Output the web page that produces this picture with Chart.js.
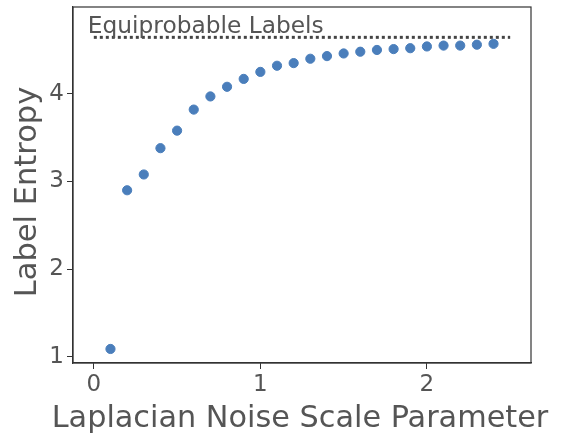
<!DOCTYPE html>
<html>
<head>
<meta charset="utf-8">
<script src="https://cdn.jsdelivr.net/npm/chart.js@4"></script>
<style>
  html, body { margin: 0; padding: 0; background: #fff; }
  #wrap { width: 565px; height: 434px; }
</style>
</head>
<body>
<div id="wrap"><canvas id="chartEntropy"></canvas></div>
<script>
const noiseScales = [0.1, 0.2, 0.3, 0.4, 0.5, 0.6, 0.7, 0.8, 0.9, 1.0, 1.1, 1.2,
  1.3, 1.4, 1.5, 1.6, 1.7, 1.8, 1.9, 2.0, 2.1, 2.2, 2.3, 2.4];
const labelEntropy = [1.09, 2.90, 3.08, 3.38, 3.58, 3.82, 3.97, 4.08, 4.17, 4.25, 4.32, 4.35,
  4.40, 4.43, 4.46, 4.48, 4.50, 4.51, 4.52, 4.54, 4.55, 4.55, 4.56, 4.57];
const equiprobableX = [0, 2.5];
const equiprobableY = [4.644, 4.644];
const xTicks = [0, 1, 2];
const yTicks = [1, 2, 3, 4];
const xTitle = "Laplacian Noise Scale Parameter";
const yTitle = "Label Entropy";
const noteText = "Equiprobable Labels";

const textColor = "#555555";
const axisColor = "#333333";
const fontFamily = "'DejaVu Sans', sans-serif";

const chartEntropyElement = document.querySelector("#chartEntropy");

// frame, axis titles (drawn here so Chart.js doesn't squeeze them) and the note
const framePlugin = {
  id: "frame",
  afterDraw: (chart) => {
    const { ctx, chartArea, scales } = chart;
    ctx.save();
    ctx.strokeStyle = axisColor;
    ctx.lineWidth = 1.2;
    ctx.strokeRect(chartArea.left, chartArea.top, chartArea.right - chartArea.left, chartArea.bottom - chartArea.top);

    ctx.fillStyle = textColor;
    ctx.textBaseline = "alphabetic";

    ctx.font = "23.3px " + fontFamily;
    ctx.textAlign = "left";
    ctx.fillText(noteText, scales.x.getPixelForValue(0) - 6, scales.y.getPixelForValue(equiprobableY[0]) - 4);

    ctx.font = "30.3px " + fontFamily;
    ctx.textAlign = "center";
    ctx.fillText(xTitle, (chartArea.left + chartArea.right) / 2 - 2, 427);

    ctx.translate(36, (chartArea.top + chartArea.bottom) / 2 + 7);
    ctx.rotate(-Math.PI / 2);
    ctx.font = "30.5px " + fontFamily;
    ctx.fillText(yTitle, 0, 0);
    ctx.restore();
  },
};

const noScalePadding = (scale) => {
  scale.paddingTop = 0;
  scale.paddingBottom = 0;
  scale.paddingLeft = 0;
  scale.paddingRight = 0;
};

const chartEntropy = new Chart(chartEntropyElement, {
  type: "scatter",
  data: {
    datasets: [
      {
        label: "Equiprobable",
        type: "line",
        data: equiprobableX.map((x, i) => ({ x: x, y: equiprobableY[i] })),
        borderColor: "#444444",
        borderWidth: 3,
        borderDash: [3, 3],
        borderCapStyle: "butt",
        pointRadius: 0,
        fill: false,
      },
      {
        label: "Label Entropy",
        data: noiseScales.map((x, i) => ({ x: x, y: labelEntropy[i] })),
        backgroundColor: "#4a7ebb",
        borderColor: "#4a7ebb",
        pointRadius: 4.6,
        pointHoverRadius: 4.6,
      },
    ],
  },
  options: {
    responsive: true,
    maintainAspectRatio: false,
    animation: false,
    layout: { padding: { left: 0, top: 7, right: 34, bottom: 0 } },
    plugins: {
      legend: { display: false },
      tooltip: { enabled: false },
    },
    scales: {
      x: {
        type: "linear",
        min: -0.125,
        max: 2.625,
        afterBuildTicks: (scale) => { scale.ticks = xTicks.map((v) => ({ value: v })); },
        afterFit: (scale) => { scale.height = 71; noScalePadding(scale); },
        grid: { drawOnChartArea: false, drawTicks: true, tickLength: 6, color: axisColor },
        border: { display: true, color: axisColor, width: 1.2 },
        ticks: { color: textColor, font: { family: fontFamily, size: 23 }, padding: 2 },
        title: { display: false },
      },
      y: {
        type: "linear",
        min: 0.93,
        max: 4.99,
        afterBuildTicks: (scale) => { scale.ticks = yTicks.map((v) => ({ value: v })); },
        afterFit: (scale) => { scale.width = 73; noScalePadding(scale); },
        grid: { drawOnChartArea: false, drawTicks: true, tickLength: 6, color: axisColor },
        border: { display: true, color: axisColor, width: 1.2 },
        ticks: { color: textColor, font: { family: fontFamily, size: 23 }, padding: 3 },
        title: { display: false },
      },
    },
  },
  plugins: [framePlugin],
});
</script>
</body>
</html>
